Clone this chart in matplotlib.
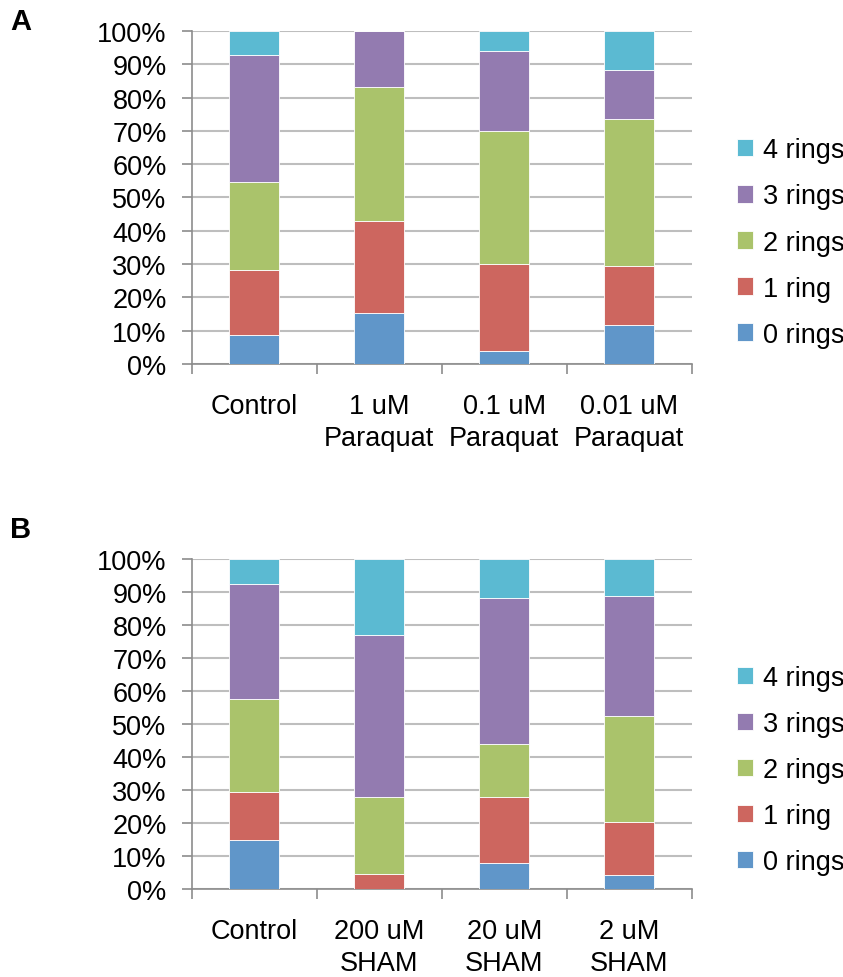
import matplotlib
matplotlib.use('Agg')
import matplotlib.pyplot as plt
from matplotlib.ticker import FuncFormatter

plt.rcParams['font.family'] = ['Liberation Sans', 'DejaVu Sans']

series_names = ['0 rings', '1 ring', '2 rings', '3 rings', '4 rings']
colors = ['#6096C9', '#CD665F', '#AAC36B', '#937BB0', '#5BBAD2']

labels_a = ['Control', '1 uM\nParaquat', '0.1 uM\nParaquat', '0.01 uM\nParaquat']
rings0_a = [8.6, 15.4, 3.9, 11.8]
rings1_a = [19.5, 27.6, 26.0, 17.5]
rings2_a = [26.7, 40.2, 40.1, 44.3]
rings3_a = [37.9, 16.8, 24.1, 14.6]
rings4_a = [7.3, 0.0, 5.9, 11.8]

labels_b = ['Control', '200 uM\nSHAM', '20 uM\nSHAM', '2 uM\nSHAM']
rings0_b = [14.8, 0.0, 8.0, 4.4]
rings1_b = [14.7, 4.6, 20.0, 16.1]
rings2_b = [28.0, 23.3, 16.0, 31.8]
rings3_b = [35.0, 48.9, 44.0, 36.3]
rings4_b = [7.5, 23.2, 12.0, 11.4]

FS = 19.5
AXCOL = '#8C8C8C'
GRIDCOL = '#BEBEBE'

fig = plt.figure(figsize=(8.43, 9.78), dpi=100)


def panel(rect, labels, data, letter, letter_y, leg_y):
    ax = fig.add_axes(rect)
    x = list(range(len(labels)))
    bottom = [0.0] * len(labels)
    handles = []
    for vals, name, c in zip(data, series_names, colors):
        h = ax.bar(x, vals, 0.4, bottom=bottom, color=c, edgecolor='white',
                   linewidth=0.6, label=name, zorder=3)
        handles.append(h)
        bottom = [b + v for b, v in zip(bottom, vals)]
    ax.set_xlim(-0.5, len(labels) - 0.5)
    ax.set_ylim(0, 100)
    ax.set_yticks(range(0, 101, 10))
    ax.yaxis.set_major_formatter(FuncFormatter(lambda v, p: '%d%%' % v))
    ax.grid(axis='y', color=GRIDCOL, linewidth=1.5, zorder=0)
    ax.set_xticks(x)
    ax.set_xticklabels(labels, fontsize=FS, linespacing=1.3)
    ax.set_xticks([i - 0.5 for i in range(len(labels) + 1)], minor=True)
    ax.tick_params(axis='x', which='major', length=0, pad=21)
    ax.tick_params(axis='x', which='minor', length=7, color=AXCOL, width=1.2)
    ax.tick_params(axis='y', length=7, color=AXCOL, width=1.2, labelsize=FS, pad=11)
    for s in ['top', 'right']:
        ax.spines[s].set_visible(False)
    for s in ['left', 'bottom']:
        ax.spines[s].set_color(AXCOL)
        ax.spines[s].set_linewidth(1.2)
    fig.text(0.012, letter_y, letter, fontsize=21, fontweight='bold', va='center')
    fig.legend(handles[::-1], series_names[::-1], loc='center left',
               bbox_to_anchor=(0.874, leg_y), frameon=False, fontsize=FS,
               handlelength=0.6, handleheight=0.6, handletextpad=0.35,
               labelspacing=0.74, borderpad=0, borderaxespad=0)
    return ax


panel([0.2274, 0.6268, 0.5931, 0.3405], labels_a,
      [rings0_a, rings1_a, rings2_a, rings3_a, rings4_a], 'A', 0.977, 0.751)
panel([0.2274, 0.0897, 0.5931, 0.3380], labels_b,
      [rings0_b, rings1_b, rings2_b, rings3_b, rings4_b], 'B', 0.458, 0.2117)

fig.savefig('out.png', dpi=100)
